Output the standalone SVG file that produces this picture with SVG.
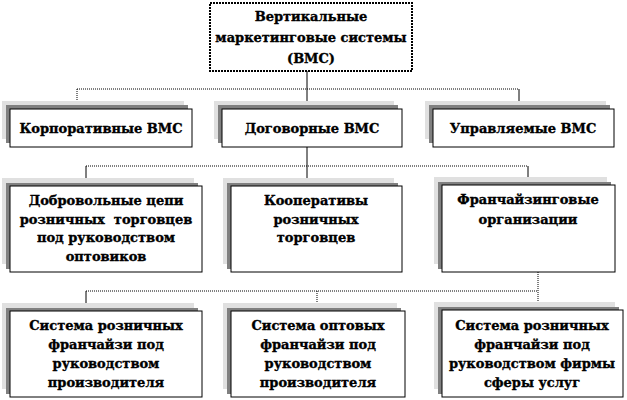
<svg xmlns="http://www.w3.org/2000/svg" width="627" height="400" viewBox="0 0 627 400">
<style>
.box{fill:#fff;stroke:#000;stroke-width:1}
.top{fill:#fff;stroke:#000;stroke-width:2;stroke-dasharray:2 1}
.sh1{fill:#e0e0e0}
.sh2{fill:#808080}
text{font-family:'DejaVu Serif','Liberation Serif',serif;font-weight:bold;font-size:13px;fill:#000;stroke:#000;stroke-width:0.35;text-anchor:middle}
.c{fill:none;stroke:#000;stroke-width:1}
.d{fill:none;stroke:#000;stroke-width:1;stroke-dasharray:1 1}
</style>
<rect width="627" height="400" fill="#fff"/>
<g id="connectors">
<path class="c" d="M307,71V109"/>
<path class="d" d="M77,89H519M77,89V109"/>
<path class="c" d="M519,89V109"/>
<path class="c" d="M307,147V186"/>
<path class="d" d="M86,166H528"/>
<path class="c" d="M86,166V186M528,166V185"/>
<path class="d" d="M538,272V310M86,291H538M317,291V311"/>
<path class="c" d="M86,291V311"/>
</g>
<g id="vms">
<rect class="top" x="210" y="3" width="202" height="68"/>
<text><tspan x="311" y="21">Вертикальные</tspan><tspan x="311" y="42">маркетинговые системы</tspan><tspan x="311" y="63">(ВМС)</tspan></text>
</g>
<g id="corp">
<rect class="sh1" x="2" y="101" width="182" height="38"/>
<rect class="sh2" x="6" y="105" width="182" height="38"/>
<rect class="box" x="10" y="109" width="182" height="38"/>
<text x="101" y="133">Корпоративные ВМС</text>
</g>
<g id="contract">
<rect class="sh1" x="214" y="101" width="180" height="38"/>
<rect class="sh2" x="218" y="105" width="180" height="38"/>
<rect class="box" x="222" y="109" width="180" height="38"/>
<text x="312" y="133">Договорные ВМС</text>
</g>
<g id="managed">
<rect class="sh1" x="425" y="101" width="181" height="38"/>
<rect class="sh2" x="429" y="105" width="181" height="38"/>
<rect class="box" x="433" y="109" width="181" height="38"/>
<text x="523" y="133">Управляемые ВМС</text>
</g>
<g id="voluntary">
<rect class="sh1" x="2" y="178" width="192" height="86"/>
<rect class="sh2" x="6" y="183" width="192" height="86"/>
<rect class="box" x="10" y="186" width="192" height="86"/>
<text xml:space="preserve"><tspan x="106" y="205">Добровольные цепи</tspan><tspan x="106" y="224">розничных  торговцев</tspan><tspan x="106" y="242">под руководством</tspan><tspan x="106" y="261">оптовиков</tspan></text>
</g>
<g id="coop">
<rect class="sh1" x="223" y="178" width="171" height="86"/>
<rect class="sh2" x="227" y="183" width="171" height="86"/>
<rect class="box" x="231" y="186" width="171" height="86"/>
<text><tspan x="316" y="205">Кооперативы</tspan><tspan x="316" y="224">розничных</tspan><tspan x="316" y="242">торговцев</tspan></text>
</g>
<g id="franchise">
<rect class="sh1" x="434" y="177" width="173" height="87"/>
<rect class="sh2" x="438" y="182" width="173" height="87"/>
<rect class="box" x="442" y="185" width="173" height="87"/>
<text><tspan x="528" y="204">Франчайзинговые</tspan><tspan x="528" y="224">организации</tspan></text>
</g>
<g id="retail-mfr">
<rect class="sh1" x="2" y="303" width="192" height="86"/>
<rect class="sh2" x="6" y="308" width="192" height="86"/>
<rect class="box" x="10" y="311" width="192" height="86"/>
<text><tspan x="106" y="330">Система розничных</tspan><tspan x="106" y="349">франчайзи под</tspan><tspan x="106" y="368">руководством</tspan><tspan x="106" y="387">производителя</tspan></text>
</g>
<g id="wholesale-mfr">
<rect class="sh1" x="223" y="303" width="174" height="86"/>
<rect class="sh2" x="227" y="308" width="174" height="86"/>
<rect class="box" x="231" y="311" width="174" height="86"/>
<text><tspan x="318" y="330">Система оптовых</tspan><tspan x="318" y="349">франчайзи под</tspan><tspan x="318" y="368">руководством</tspan><tspan x="318" y="387">производителя</tspan></text>
</g>
<g id="retail-service">
<rect class="sh1" x="434" y="302" width="181" height="87"/>
<rect class="sh2" x="438" y="307" width="181" height="87"/>
<rect class="box" x="442" y="310" width="181" height="87"/>
<text><tspan x="532" y="330">Система розничных</tspan><tspan x="532" y="349">франчайзи под</tspan><tspan x="532" y="368">руководством фирмы</tspan><tspan x="532" y="387">сферы услуг</tspan></text>
</g>
</svg>
